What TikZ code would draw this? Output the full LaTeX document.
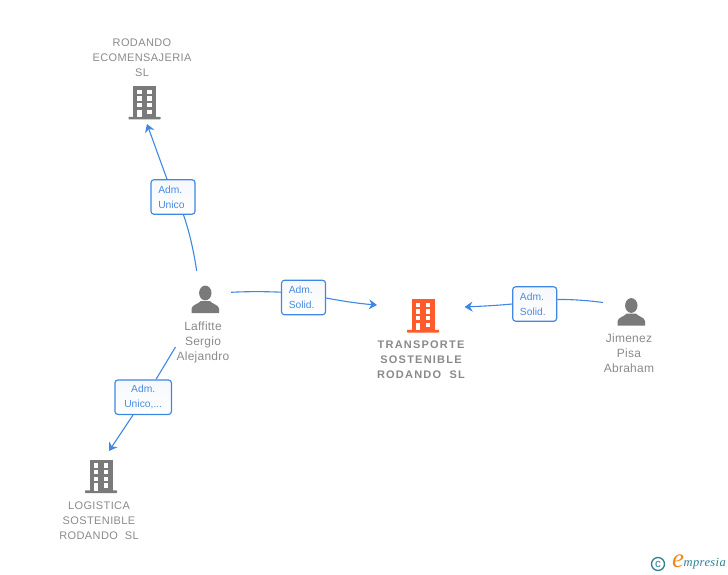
\documentclass[tikz,border=0pt]{standalone}
\usepackage{fontspec}
\setmainfont{Liberation Sans}
\newfontfamily\logofont{Liberation Serif}
\usetikzlibrary{arrows.meta,shadings}
\definecolor{edgeblue}{HTML}{3F87E4}
\definecolor{labelblue}{HTML}{4A8BE0}
\definecolor{nodegrey}{HTML}{7A7A7A}
\definecolor{textgrey}{HTML}{8A8A8A}
\definecolor{hotorange}{HTML}{FF5A2B}
\definecolor{logoteal}{HTML}{2F7F95}
\definecolor{logoorange}{HTML}{F08A1D}
\definecolor{boxtint}{HTML}{F6F8FC}
\tikzset{
  edgeline/.style={draw=edgeblue,line width=1.1pt},
  arrowline/.style={edgeline,-{Stealth[length=8pt,width=10pt,inset=2.6pt]}},
  rolebox/.style={draw=edgeblue,line width=1.15pt,rounded corners=3pt,top color=boxtint,bottom color=white,
    text=labelblue,font=\fontsize{10.3}{15}\selectfont,inner sep=0pt,minimum height=34.5pt},
  caption/.style={text=textgrey,font=\fontsize{11}{15}\selectfont\addfontfeature{LetterSpace=3.5},align=center,inner sep=0pt},
  namecaption/.style={text=textgrey,font=\fontsize{12}{15}\selectfont\addfontfeature{LetterSpace=2},align=center,inner sep=0pt},
  maincaption/.style={text=textgrey,font=\fontsize{11}{15}\selectfont\bfseries\addfontfeature{LetterSpace=11},align=center,inner sep=0pt},
  pics/building/.style={code={
    \fill[#1] (-11.5,-33.5) rectangle (11.5,-2.5);
    \fill[#1,rounded corners=0.6pt] (-16,-2.7) rectangle (16,0);
    \foreach \yy in {-29.7,-23.2,-16.5}{
      \fill[white] (-7.3,\yy) rectangle (-2.6,\yy+4.3);
      \fill[white] (2.6,\yy) rectangle (7.3,\yy+4.3);
    }
    \fill[white] (-7.3,-9.8) rectangle (-2.6,-2.5);
    \fill[white] (2.6,-9.8) rectangle (7.3,-5.5);
  }},
  pics/person/.style={code={
    \fill[nodegrey] (0,-20) ellipse (6.2 and 7.4);
    \fill[nodegrey] (-13.7,0) -- (-13.7,-4.5) .. controls (-13.5,-8) and (-7,-9) .. (-4.5,-12)
      -- (4.5,-12) .. controls (7,-9) and (13.5,-8) .. (13.7,-4.5) -- (13.7,0) -- cycle;
  }}
}
\begin{document}
\begin{tikzpicture}[x=1pt,y=-1pt]
\useasboundingbox (0,0) rectangle (728,575);
% icons
\pic at (144.5,119.5) {building=nodegrey};
\pic at (423,332.5) {building=hotorange};
\pic at (101,493) {building=nodegrey};
\pic at (205.3,313) {person};
\pic at (631.3,325.5) {person};
% captions
\node[caption] (rodando) at (142,57.5) {RODANDO\\ECOMENSAJERIA\\SL};
\node[maincaption] (transporte) at (421,359.5) {TRANSPORTE\\SOSTENIBLE\\RODANDO\ \ SL};
\node[caption] (logistica) at (99,520.5) {LOGISTICA\\SOSTENIBLE\\RODANDO\ \ SL};
\node[namecaption] (laffitte) at (203,342.5) {Laffitte\\Sergio\\Alejandro};
\node[namecaption] (jimenez) at (629,353.5) {Jimenez\\Pisa\\Abraham};
% role boxes
\node[rolebox,minimum width=44pt,align=left,text width=29.5pt] (r1) at (173,197) {Adm.\\Unico};
\node[rolebox,minimum width=44pt,align=left,text width=29.5pt] (r2) at (303.5,297.5) {Adm.\\Solid.};
\node[rolebox,minimum width=44pt,align=left,text width=29.5pt] (r3) at (534.7,304) {Adm.\\Solid.};
\node[rolebox,minimum width=56.5pt,align=center] (r4) at (143.2,397.2) {Adm.\\Unico,...};
% free ends
\coordinate (a1s) at (196.7,271);
\coordinate (a1e) at (147,124);
\coordinate (a2s) at (231,292.3);
\coordinate (a2e) at (377,305);
\coordinate (a3s) at (603,302.5);
\coordinate (a3e) at (464.5,307);
\coordinate (a4s) at (175.5,347);
\coordinate (a4e) at (109,451);
% connectors
\draw[edgeline] (a1s) .. controls (193,246) and (188,228) .. (r1.south -| 183.5,0);
\draw[arrowline] (r1.north -| 167,0) -- (a1e);
\draw[edgeline] (a2s) .. controls (250,291.3) and (268,291.6) .. (r2.west |- 0,292.2);
\draw[arrowline] (r2.east |- 0,298) .. controls (342,301) and (358,303.5) .. (a2e);
\draw[edgeline] (a3s) .. controls (588,300.5) and (572,299.3) .. (r3.east |- 0,299.5);
\draw[arrowline] (r3.west |- 0,304) .. controls (497,305.5) and (480,306.3) .. (a3e);
\draw[edgeline] (a4s) -- (r4.north -| 156,0);
\draw[arrowline] (r4.south -| 133,0) -- (a4e);
% logo
\node[draw=logoteal,line width=1.3pt,circle,minimum size=13pt,inner sep=0pt,text=logoteal,font=\fontsize{11.5}{11}\selectfont] (copy) at (658,564) {c};
\node[text=logoorange,font=\logofont\itshape\fontsize{27}{27}\selectfont,inner sep=0pt] (logoe) at (678,561) {e};
\node[text=logoteal,font=\logofont\itshape\fontsize{12.5}{12}\selectfont\addfontfeature{LetterSpace=3},inner sep=0pt,anchor=west] (logot) at (683.5,563.5) {mpresia};
\end{tikzpicture}
\end{document}
